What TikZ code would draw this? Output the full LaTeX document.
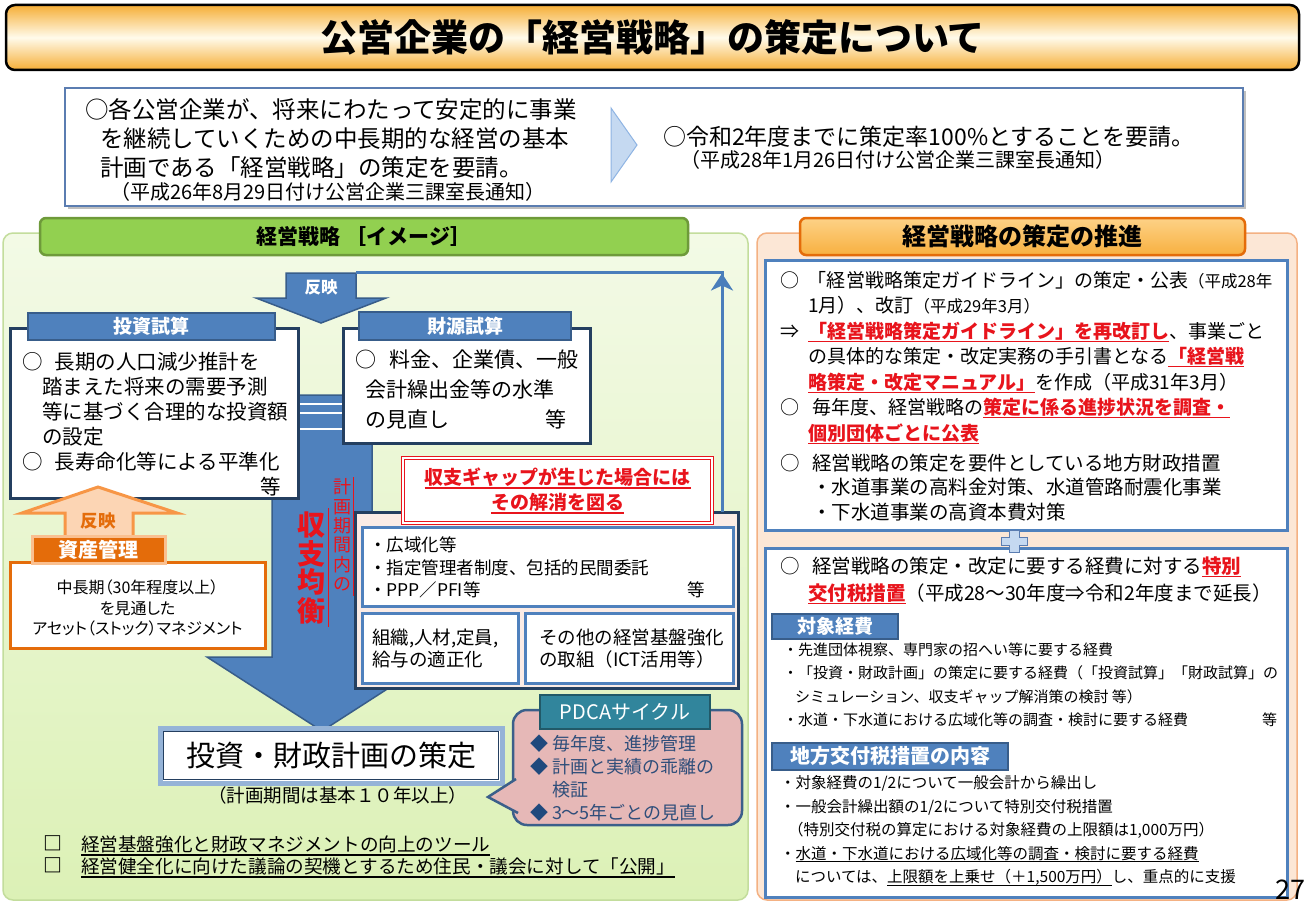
\documentclass[tikz,border=0pt]{standalone}
\usepackage{fontspec}
\setmainfont{Noto Sans CJK JP}
\usetikzlibrary{arrows.meta}
\newcommand\setfs[2]{\fontsize{#1}{#2}\selectfont}
\newsavebox\ulbox
\newcommand\myul[1]{\sbox\ulbox{#1}\makebox[0pt][l]{\rule[-0.2em]{\wd\ulbox}{0.07em}}\usebox\ulbox}
\definecolor{navy}{HTML}{243F60}
\definecolor{blueF}{HTML}{4F81BD}
\definecolor{blueD}{HTML}{385D8A}
\definecolor{fbblue}{HTML}{4A7EBB}
\definecolor{redT}{HTML}{E8141C}
\definecolor{orangeD}{HTML}{E46C0A}
\definecolor{orangeM}{HTML}{F79646}
\definecolor{orangeL}{HTML}{FAC090}
\definecolor{peachA}{HTML}{FCD5B4}
\definecolor{greenTab}{HTML}{92D050}
\definecolor{greenTabD}{HTML}{6E9A3A}
\definecolor{greenTop}{HTML}{F3FAE6}
\definecolor{greenBot}{HTML}{DCF1B6}
\definecolor{greenBd}{HTML}{C3DD9C}
\definecolor{peachPanel}{HTML}{FCE7D6}
\definecolor{peachBd}{HTML}{F4B183}
\definecolor{tabOT}{HTML}{FDD287}
\definecolor{tabOB}{HTML}{F8B040}
\definecolor{titleO}{HTML}{F6AE36}
\definecolor{titleL}{HTML}{FFFBEB}
\definecolor{tealT}{HTML}{31859C}
\definecolor{tealD}{HTML}{215968}
\definecolor{pinkB}{HTML}{E6B8B7}
\definecolor{pinkBd}{HTML}{3B5F8A}
\definecolor{slateT}{HTML}{2F4E7A}
\definecolor{diam}{HTML}{1F497D}
\definecolor{measF}{HTML}{FBECE6}
\definecolor{topBd}{HTML}{5B7DB1}
\definecolor{planBd}{HTML}{95B3D7}
\definecolor{chevF}{HTML}{C5D9F1}
\definecolor{chevD}{HTML}{8EB4E3}
\begin{document}
\begin{tikzpicture}[x=1pt,y=-1pt,
  every node/.style={inner sep=0pt, outer sep=0pt},
  tl/.style={anchor=north west, align=left},
  box/.style={rectangle, fill=white, draw=navy, line width=3pt},
  bluetab/.style={rectangle, fill=blueF, draw=blueD, line width=2pt, text=white, font=\bfseries\setfs{19}{19}},
  innerbox/.style={rectangle, fill=white, draw=blueF, line width=3pt},
  fb/.style={draw=fbblue, line width=3pt},
]
\useasboundingbox (0,0) rectangle (1305,904);
\fill[white] (0,0) rectangle (1305,904);

% ---------- title ----------
\node[draw=black, line width=2.5pt, rounded corners=9pt, minimum width=1293pt, minimum height=65pt,
  top color=titleO, bottom color=titleO, middle color=titleL, font=\bfseries\setfs{37}{37}]
  (title) at (652.5,37.5) {公営企業の「経営戦略」の策定について};

% ---------- top box ----------
\fill[black!25] (68,91) rectangle (1246,209);
\node[rectangle, draw=topBd, line width=2pt, fill=white, minimum width=1178pt, minimum height=118pt]
  (topbox) at (654,147) {};
\node[tl, font=\setfs{23.5}{29}] (topL) at (85,99)
  {○各公営企業が、将来にわたって安定的に事業\\
   \hspace*{15pt}を継続していくための中長期的な経営の基本\\
   \hspace*{15pt}計画である「経営戦略」の策定を要請。};
\node[anchor=west, font=\setfs{20}{20}] (topLn) at (110,192) {（平成26年8月29日付け公営企業三課室長通知）};
\filldraw[fill=chevF, draw=chevD, line width=1pt] (611,108) -- (637,145) -- (611,182) -- cycle;
\node[anchor=west, font=\setfs{23}{23}] (topR) at (663,137) {○令和2年度までに策定率100\%とすることを要請。};
\node[anchor=west, font=\setfs{20}{20}] (topRn) at (680,160) {（平成28年1月26日付け公営企業三課室長通知）};

% ---------- left panel ----------
\node[rectangle, rounded corners=10pt, minimum width=745pt, minimum height=667pt,
  top color=greenTop, bottom color=greenBot, draw=greenBd, line width=1.5pt] (leftpanel) at (375.5,566.5) {};
\node[rectangle, rounded corners=6pt, minimum width=648pt, minimum height=37pt, fill=greenTab,
  draw=greenTabD, line width=2.5pt, font=\bfseries\setfs{21}{21}] (lefttab) at (364,236.5) {経営戦略 ［イメージ］};

% big down arrow
\filldraw[fill=blueF, draw=blueD, line width=1.5pt]
  (272,395) -- (372,395) -- (372,657) -- (437,657) -- (322,731) -- (207,657) -- (272,657) -- cycle;
\foreach \yy in {404,413,429} \draw[white, line width=2.5pt] (273,\yy) -- (371,\yy);

% top reflect arrow
\filldraw[fill=blueF, draw=blueD, line width=1.5pt]
  (286,273) -- (356,273) -- (356,298) -- (386,298) -- (321,323) -- (256,298) -- (286,298) -- cycle;
\node[text=white, font=\bfseries\setfs{16.5}{16.5}] (hanei) at (321,287) {反映};
\coordinate (haneiTR) at (356,272);

% investment box
\node[box, minimum width=288pt, minimum height=170pt] (invbox) at (154,413) {};
\node[bluetab, minimum width=247pt, minimum height=27pt] (invtab) at (151.5,326.5) {投資試算};
\node[tl, font=\setfs{20.5}{25}] (invtxt) at (22,352.4)
  {\makebox[33pt][l]{○}長期の人口減少推計を\\
   \hspace*{20pt}踏まえた将来の需要予測\\
   \hspace*{20pt}等に基づく合理的な投資額\\
   \hspace*{20pt}の設定\\
   \makebox[33pt][l]{○}長寿命化等による平準化\\
   \hspace*{238pt}等};

% finance box
\node[box, minimum width=247pt, minimum height=115pt] (finbox) at (466.5,385.5) {};
\node[bluetab, minimum width=212pt, minimum height=28pt] (fintab) at (465,326) {財源試算};
\node[tl, font=\setfs{21}{30}] (fintxt) at (355,350)
  {\makebox[35pt][l]{○}料金、企業債、一般\\
   \hspace*{10pt}会計繰出金等の水準\\
   \makebox[190pt][l]{\hspace*{10pt}の見直し}等};

% asset management
\filldraw[fill=peachA, draw=orangeM, line width=3pt]
  (98,487) -- (177,513) -- (133,513) -- (133,537) -- (65,537) -- (65,513) -- (22,513) -- cycle;
\node[text=orangeD, font=\bfseries\setfs{17.5}{17.5}] (hanei2) at (98,521) {反映};
\node[rectangle, draw=orangeD, line width=3pt, fill=white, minimum width=255pt, minimum height=86pt] (assetbox) at (137.5,605) {};
\node[rectangle, fill=orangeD, draw=orangeL, line width=3pt, minimum width=133pt, minimum height=27pt,
  text=white, font=\bfseries\setfs{20}{20}] (assettab) at (98.5,550) {資産管理};
\node[align=center, font=\setfs{16}{20.5}\addfontfeatures{RawFeature=+palt}] (assettxt) at (137.5,608)
  {中長期（30年程度以上）\\を見通した\\アセット（ストック）マネジメント};

% vertical red text
\node[text=redT, align=center, font=\setfs{18}{19.4}] (keikaku) at (342,535) {計\\画\\期\\間\\内\\の};
\node[text=redT, align=center, font=\bfseries\setfs{28}{28.7}] (shushi) at (311,568) {収\\支\\均\\衡};
\draw[redT, line width=1pt] (328,508) -- (328,627);
\draw[redT, line width=1pt] (353,477) -- (353,596);

% measures box
\node[rectangle, fill=measF, draw=navy, line width=3pt, minimum width=383pt, minimum height=176pt] (measbox) at (546.5,600) {};
\node[innerbox, minimum width=371pt, minimum height=79pt] (msA) at (547.5,566.5) {};
\node[tl, font=\setfs{17.5}{22.5}] (msAtxt) at (369,537)
  {・広域化等\\・指定管理者制度、包括的民間委託\\\makebox[318pt][l]{・PPP／PFI等}等};
\node[innerbox, minimum width=156pt, minimum height=70pt] (msB) at (440,648) {};
\node[tl, font=\setfs{18.5}{22}] (msBtxt) at (372,629.3) {組織,人材,定員,\\給与の適正化};
\node[innerbox, minimum width=208pt, minimum height=70pt] (msC) at (629,648) {};
\node[tl, font=\setfs{18.5}{22}] (msCtxt) at (539,629.3) {その他の経営基盤強化\\の取組（ICT活用等）};

% red gap box
\node[rectangle, fill=white, draw=redT, line width=1.3pt, double=white, double distance=2pt,
  minimum width=309pt, minimum height=65pt] (gapbox) at (557.5,490.5) {};
\node[align=center, text=redT, font=\bfseries\setfs{19}{25}] (gaptxt) at (557.5,491)
  {\myul{収支ギャップが生じた場合には}\\\myul{その解消を図る}};

% feedback connector
\coordinate (fbc) at (722,272);
\draw[fb] (measbox.north -| fbc) -- (fbc) -- (haneiTR);
\draw[fb, -{Stealth[length=17pt,width=22pt,inset=5pt]}] (722,310) -- (722,273.5);

% plan box
\node[rectangle, draw=planBd, line width=5pt, fill=white, minimum width=342pt, minimum height=55pt,
  font=\setfs{29}{29}] (planbox) at (331,755.5) {投資・財政計画の策定};
\draw[navy, line width=1.2pt] ([shift={(3.5,3.5)}]planbox.north west) rectangle ([shift={(-3.5,-3.5)}]planbox.south east);
\node[font=\setfs{18.5}{18.5}] (plannote) at (337.5,795) {（計画期間は基本１０年以上）};

% PDCA callout
\node[rectangle, rounded corners=14pt, fill=pinkB, draw=pinkBd, line width=2.5pt,
  minimum width=229pt, minimum height=115pt] (pdcabox) at (627.5,767.5) {};
\filldraw[fill=pinkB, draw=pinkBd, line width=2.5pt] (516,779) -- (488,797) -- (518,813);
\node[rectangle, fill=tealT, draw=tealD, line width=2pt, minimum width=170pt, minimum height=34pt,
  text=white, font=\setfs{20}{20}] (pdcatab) at (625,712) {PDCAサイクル};
\node[tl, text=slateT, font=\setfs{18}{23}] (pdcatxt) at (530,734.5)
  {\makebox[22pt][l]{\textcolor{diam}{◆}}毎年度、進捗管理\\
   \makebox[22pt][l]{\textcolor{diam}{◆}}計画と実績の乖離の\\
   \hspace*{22pt}検証\\
   \makebox[22pt][l]{\textcolor{diam}{◆}}3～5年ごとの見直し};

% bottom bullets
\node[tl, font=\bfseries\setfs{19}{22}] (sq) at (43,836) {□\\□};
\node[tl, font=\setfs{18.6}{22}] (bullets) at (81,836.3)
  {\myul{経営基盤強化と財政マネジメントの向上のツール}\\
   \myul{経営健全化に向けた議論の契機とするため住民・議会に対して「公開」}};

% ---------- right panel ----------
\node[rectangle, rounded corners=10pt, minimum width=540pt, minimum height=667pt,
  fill=peachPanel, draw=peachBd, line width=1.5pt] (rightpanel) at (1027,566.5) {};
\node[rectangle, rounded corners=6pt, minimum width=445pt, minimum height=37pt, top color=tabOT, bottom color=tabOB,
  draw=orangeD, line width=2.5pt, font=\bfseries\setfs{24}{24}] (righttab) at (1022.5,236.5) {経営戦略の策定の推進};

\node[innerbox, minimum width=522pt, minimum height=270pt] (rbox1) at (1026,395) {};
\node[tl, font=\setfs{19}{25.5}] (r1a) at (780,271)
  {\makebox[28pt][l]{○}「経営戦略策定ガイドライン」の策定・公表{\setfs{16.5}{16.5}（平成28年}\\
   \hspace*{28pt}1月）、改訂{\setfs{16.5}{16.5}（平成29年3月）}\\
   \makebox[28pt][l]{⇒}\textcolor{redT}{\bfseries\myul{「経営戦略策定ガイドライン」を再改訂し}}、事業ごと\\
   \hspace*{28pt}の具体的な策定・改定実務の手引書となる\textcolor{redT}{\bfseries\myul{「経営戦}}\\
   \hspace*{28pt}\textcolor{redT}{\bfseries\myul{略策定・改定マニュアル」}}を作成（平成31年3月）\\
   \makebox[28pt][l]{○}\hspace*{4pt}毎年度、経営戦略の\textcolor{redT}{\bfseries\myul{策定に係る進捗状況を調査・}}\\
   \hspace*{28pt}\textcolor{redT}{\bfseries\myul{個別団体ごとに公表}}};
\node[tl, font=\setfs{19.5}{24.5}] (r1b) at (780,453.8)
  {\makebox[32pt][l]{○}経営戦略の策定を要件としている地方財政措置\\
   \hspace*{32pt}・水道事業の高料金対策、水道管路耐震化事業\\
   \hspace*{32pt}・下水道事業の高資本費対策};

\node[innerbox, minimum width=522pt, minimum height=349pt] (rbox2) at (1026,722.5) {};
\filldraw[fill=chevF, draw=topBd, line width=1pt]
  (1009,530) -- (1019,530) -- (1019,537) -- (1027,537) -- (1027,545) -- (1019,545) -- (1019,552)
  -- (1009,552) -- (1009,545) -- (1001,545) -- (1001,537) -- (1009,537) -- cycle;
\node[tl, font=\setfs{19.5}{27}] (r2a) at (780,556.8)
  {\makebox[32pt][l]{○}経営戦略の策定・改定に要する経費に対する\textcolor{redT}{\bfseries\myul{特別}}\\
   \hspace*{28pt}\textcolor{redT}{\bfseries\myul{交付税措置}}（平成28～30年度⇒令和2年度まで延長）};
\node[bluetab, minimum width=126pt, minimum height=25pt] (taisho) at (835,626) {対象経費};
\node[tl, font=\setfs{15}{23.3}] (r2b) at (783,643)
  {・先進団体視察、専門家の招へい等に要する経費\\
   ・「投資・財政計画」の策定に要する経費（「投資試算」「財政試算」の\\
   \hspace*{12pt}シミュレーション、収支ギャップ解消策の検討 等）\\
   \makebox[479pt][l]{・水道・下水道における広域化等の調査・検討に要する経費}等};
\node[bluetab, minimum width=236pt, minimum height=27pt, font=\bfseries\setfs{20}{20}] (chihou) at (890,756) {地方交付税措置の内容};
\node[tl, font=\setfs{15.5}{23.5}] (r2c) at (780,775.7)
  {・対象経費の1/2について一般会計から繰出し\\
   ・一般会計繰出額の1/2について特別交付税措置\\
   \hspace*{8pt}（特別交付税の算定における対象経費の上限額は1,000万円）\\
   ・\myul{水道・下水道における広域化等の調査・検討に要する経費}\\
   \hspace*{15pt}については、\myul{上限額を上乗せ（＋1,500万円）}し、重点的に支援};

\node[anchor=base east, font=\setfs{27}{27}] (pageno) at (1305,899) {27};
\end{tikzpicture}
\end{document}
